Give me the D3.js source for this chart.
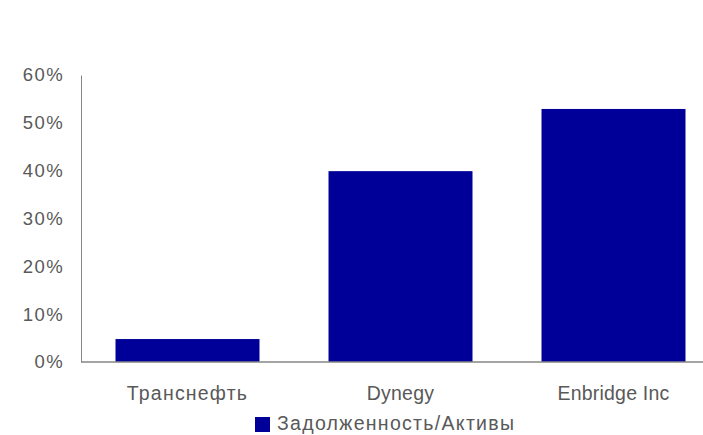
<!DOCTYPE html>
<html>
<head>
<meta charset="utf-8">
<script src="https://cdn.jsdelivr.net/npm/d3@7"></script>
<style>
  body { margin: 0; background: #fff; }
  text { font-family: "Liberation Sans", Arial, sans-serif; fill: #595959; }
</style>
</head>
<body>
<svg id="chart" width="703" height="435"></svg>
<script>
// data
const categories = ["Транснефть", "Dynegy", "Enbridge Inc"];
const values = [0.048, 0.399, 0.529];
const yTicks = [0, 0.1, 0.2, 0.3, 0.4, 0.5, 0.6];
const seriesName = "Задолженность/Активы";

const svg = d3.select("#chart");
const barColor = "#000099";
const fontSize = 19.5;

const x = d3.scaleBand()
  .domain(categories)
  .range([81, 720])
  .paddingInner(0.324)
  .paddingOuter(0.162);

const y = d3.scaleLinear()
  .domain([0, 0.6])
  .range([362, 75]);

// y axis labels, no tick marks
const yAxis = svg.append("g")
  .attr("transform", "translate(81,0)")
  .call(d3.axisLeft(y).tickValues(yTicks).tickFormat(d3.format(".0%")).tickSize(0).tickPadding(17));
yAxis.select(".domain").attr("stroke", "#868686");
yAxis.selectAll("text")
  .attr("font-size", 18.5)
  .attr("font-family", "Liberation Sans, Arial, sans-serif")
  .attr("letter-spacing", 1.4)
  .attr("fill", "#595959");

// bars
svg.append("g")
  .selectAll("rect")
  .data(values)
  .enter()
  .append("rect")
  .attr("x", function(d, i) { return x(categories[i]); })
  .attr("y", function(d) { return y(d); })
  .attr("width", x.bandwidth())
  .attr("height", function(d) { return y(0) - y(d); })
  .attr("fill", barColor);

// baseline
svg.append("line")
  .attr("x1", 81).attr("x2", 703)
  .attr("y1", y(0)).attr("y2", y(0))
  .attr("stroke", "#868686")
  .attr("stroke-width", 1.5);

// category labels (cyrillic renders a bit wider in the original)
svg.append("g")
  .selectAll("text")
  .data(categories)
  .enter()
  .append("text")
  .attr("x", function(d) { return x(d) + x.bandwidth() / 2; })
  .attr("y", 400)
  .attr("text-anchor", "middle")
  .attr("font-size", fontSize)
  .attr("letter-spacing", function(d) { return /[а-яА-Я]/.test(d) ? 1.2 : 0.2; })
  .text(function(d) { return d; });

// legend
const legend = svg.append("g");
legend.append("rect")
  .attr("x", 255).attr("y", 417)
  .attr("width", 15).attr("height", 15)
  .attr("fill", barColor);
legend.append("text")
  .attr("x", 277).attr("y", 430)
  .attr("font-size", fontSize)
  .attr("letter-spacing", 1.3)
  .text(seriesName);
</script>
</body>
</html>
